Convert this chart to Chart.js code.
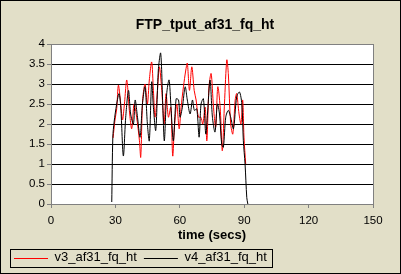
<!DOCTYPE html>
<html>
<head>
<meta charset="utf-8">
<title>FTP_tput_af31_fq_ht</title>
<script src="https://cdn.jsdelivr.net/npm/chart.js@4"></script>
<style>
  html, body { margin: 0; padding: 0; background: #e2dfc8; }
  canvas { display: block; }
</style>
</head>
<body>
<canvas id="chart" width="401" height="274"></canvas>
<script>
// values (time in secs, throughput)
const v3Times = [28.9, 29.8, 30.6, 31.4, 32.5, 33.3, 34.2, 35.3, 36.5, 37.6, 38.7, 39.9, 41.2, 41.8,
  42.7, 43.8, 44.9, 45.8, 46.9, 47.7, 48.5, 49.6, 50.5, 51.6, 52.7, 53.6, 54.7, 55.8, 56.7, 57.5,
  58.6, 59.7, 60.6, 61.7, 62.8, 63.5, 64.5, 65.6, 66.7, 67.6, 68.7, 69.8, 70.7, 71.8, 72.6, 73.6,
  74.6, 75.7, 76.7, 77.7, 78.8, 79.8, 80.8, 81.9, 82.6, 83.7, 84.7, 85.8, 86.5, 87.6, 88.5, 89.3,
  89.9, 90.7];
const v3Values = [1.65, 2.1, 2.38, 2.97, 2.5, 2.1, 2.5, 3.1, 2.34, 1.88, 2.5, 2.17, 1.58, 1.17,
  2.6, 3.0, 2.5, 3.1, 3.55, 2.84, 2.17, 2.84, 3.43, 2.84, 2.0, 2.76, 2.17, 2.42, 1.2, 1.92,
  2.5, 1.88, 2.42, 2.93, 3.35, 3.52, 2.84, 3.43, 2.84, 2.6, 2.17, 2.17, 2.0, 2.42, 1.58, 2.93,
  3.26, 2.42, 1.92, 2.93, 2.42, 1.33, 2.5, 3.6, 3.26, 2.0, 1.75, 2.6, 2.76, 2.25, 2.0, 2.6,
  1.67, 1.0];

const v4Times = [28.3, 28.8, 29.4, 30.6, 31.7, 32.5, 33.7, 34.8, 36.1, 37.1, 38.4, 39.2, 40.3, 41.5,
  42.6, 43.8, 44.9, 45.8, 46.9, 47.7, 48.8, 50.0, 51.1, 52.1, 52.8, 53.9, 55.0, 55.9, 57.0, 58.3,
  59.4, 60.1, 61.2, 62.5, 63.5, 64.8, 65.9, 66.8, 67.9, 69.0, 69.9, 71.0, 72.1, 72.9, 74.1, 75.2,
  76.4, 77.5, 78.5, 79.5, 80.3, 81.4, 82.6, 83.7, 85.0, 86.5, 87.8, 88.9, 89.6, 90.4, 91.2, 91.7];
const v4Values = [0.05, 1.67, 2.05, 2.5, 2.76, 2.42, 1.2, 2.17, 2.84, 2.25, 2.0, 2.6, 2.17, 1.67,
  2.5, 2.93, 2.0, 1.58, 3.05, 2.42, 1.84, 3.35, 3.77, 2.42, 1.58, 2.76, 3.1, 2.42, 1.58, 2.63,
  2.6, 2.17, 2.42, 2.93, 2.6, 2.25, 2.6, 2.34, 2.38, 1.67, 2.5, 2.63, 1.75, 2.25, 3.1, 2.17,
  1.8, 2.5, 2.25, 1.5, 1.42, 2.17, 2.34, 2.17, 1.88, 2.68, 2.8, 2.5, 1.58, 1.0, 0.16, 0];

const chartTitle = 'FTP_tput_af31_fq_ht';
const seriesNames = ['v3_af31_fq_ht', 'v4_af31_fq_ht'];
const seriesColors = ['#ff0000', '#000000'];
const xTicks = [0, 30, 60, 90, 120, 150];
const yTicks = [0, 0.5, 1, 1.5, 2, 2.5, 3, 3.5, 4];

function toPoints(times, values) {
  return times.map((t, i) => ({ x: t, y: values[i] }));
}

const GREY = '#808080';
const LEGEND_LINE = 34;

// beige chart area, black outer frame, grey plot frame, title, legend lines and box
const framePlugin = {
  id: 'frame',
  beforeDraw(chart) {
    const ctx = chart.ctx;
    ctx.save();
    ctx.fillStyle = '#e2dfc8';
    ctx.fillRect(0, 0, chart.width, chart.height);
    const a = chart.chartArea;
    ctx.fillStyle = '#ffffff';
    ctx.fillRect(a.left, a.top, a.right - a.left, a.bottom - a.top);
    ctx.restore();
  },
  afterDraw(chart) {
    const ctx = chart.ctx;
    const a = chart.chartArea;
    ctx.save();
    ctx.lineWidth = 1;
    ctx.strokeStyle = GREY;
    ctx.beginPath();
    ctx.moveTo(Math.round(a.right) + 0.5, Math.round(a.top));
    ctx.lineTo(Math.round(a.right) + 0.5, Math.round(a.bottom) + 1);
    ctx.stroke();
    ctx.strokeStyle = '#000000';
    ctx.strokeRect(0.5, 0.5, chart.width - 1, chart.height - 1);

    // title sits a little left of the plot centre, like the original
    ctx.fillStyle = '#000000';
    ctx.font = "bold 14px 'Liberation Sans', Arial, sans-serif";
    ctx.textAlign = 'center';
    ctx.textBaseline = 'middle';
    ctx.fillText(chartTitle, a.left + (a.right - a.left) / 2 - 7, a.top - 19);

    const legend = chart.legend;
    const boxes = legend.legendHitBoxes;
    if (boxes && boxes.length) {
      boxes.forEach((hb, i) => {
        const item = legend.legendItems[i];
        const y = Math.round(hb.top + hb.height / 2) + 0.5;
        ctx.strokeStyle = seriesColors[item.datasetIndex];
        ctx.beginPath();
        ctx.moveTo(hb.left, y);
        ctx.lineTo(hb.left + LEGEND_LINE, y);
        ctx.stroke();
      });
      const first = boxes[0];
      const last = boxes[boxes.length - 1];
      const l = Math.round(first.left - 4) + 0.5;
      const r = Math.round(last.left + last.width + 5) + 0.5;
      const t = Math.round(first.top - 2.5) + 0.5;
      const b = Math.round(first.top + first.height + 3) + 0.5;
      ctx.strokeStyle = '#000000';
      ctx.strokeRect(l, t, r - l, b - t);
    }
    ctx.restore();
  }
};

Chart.defaults.font.family = "'Liberation Sans', Arial, sans-serif";
Chart.defaults.color = '#000000';

function lineSet(i, times, values, order) {
  return {
    label: seriesNames[i],
    data: toPoints(times, values),
    borderColor: seriesColors[i],
    backgroundColor: seriesColors[i],
    borderWidth: 1,
    pointRadius: 0,
    tension: 0.3,
    order: order
  };
}

new Chart(document.getElementById('chart'), {
  type: 'line',
  data: {
    datasets: [
      lineSet(0, v3Times, v3Values, 1),
      lineSet(1, v4Times, v4Values, 0)
    ]
  },
  options: {
    responsive: false,
    animation: false,
    devicePixelRatio: 1,
    layout: { padding: { left: 7, right: 28, top: 44, bottom: 0 } },
    plugins: {
      title: { display: false },
      legend: {
        display: true,
        position: 'bottom',
        align: 'start',
        labels: {
          boxWidth: LEGEND_LINE,
          boxHeight: 0,
          padding: 7,
          color: '#000000',
          font: { size: 13 },
          sort: (a, b) => a.datasetIndex - b.datasetIndex,
          generateLabels: (chart) => {
            const items = Chart.defaults.plugins.legend.labels.generateLabels(chart);
            items.forEach(item => {
              item.strokeStyle = 'rgba(0,0,0,0)';
              item.fillStyle = 'rgba(0,0,0,0)';
              item.lineWidth = 0;
            });
            return items;
          }
        }
      },
      tooltip: { enabled: false }
    },
    scales: {
      x: {
        type: 'linear',
        min: 0,
        max: 150,
        afterBuildTicks: (scale) => { scale.ticks = xTicks.map(v => ({ value: v })); },
        afterFit: (scale) => { scale.height = 40; },
        ticks: { font: { size: 11.5 }, color: '#000000', padding: 6, callback: (v) => String(v) },
        grid: { drawOnChartArea: false, drawTicks: true, tickLength: 4, tickColor: GREY },
        border: { display: true, color: GREY },
        title: {
          display: true,
          text: 'time (secs)',
          color: '#000000',
          font: { size: 13, weight: 'bold' },
          padding: { top: 0, bottom: 1 }
        }
      },
      y: {
        min: 0,
        max: 4,
        afterBuildTicks: (scale) => { scale.ticks = yTicks.map(v => ({ value: v })); },
        afterFit: (scale) => { scale.width = 44; },
        ticks: { font: { size: 11.5 }, color: '#000000', padding: 2, callback: (v) => String(v) },
        grid: {
          color: (c) => (c.tick && (c.tick.value === 0 || c.tick.value === 4)) ? GREY : '#000000',
          tickColor: GREY,
          tickLength: 4
        },
        border: { display: true, color: GREY }
      }
    }
  },
  plugins: [framePlugin]
});
</script>
</body>
</html>
